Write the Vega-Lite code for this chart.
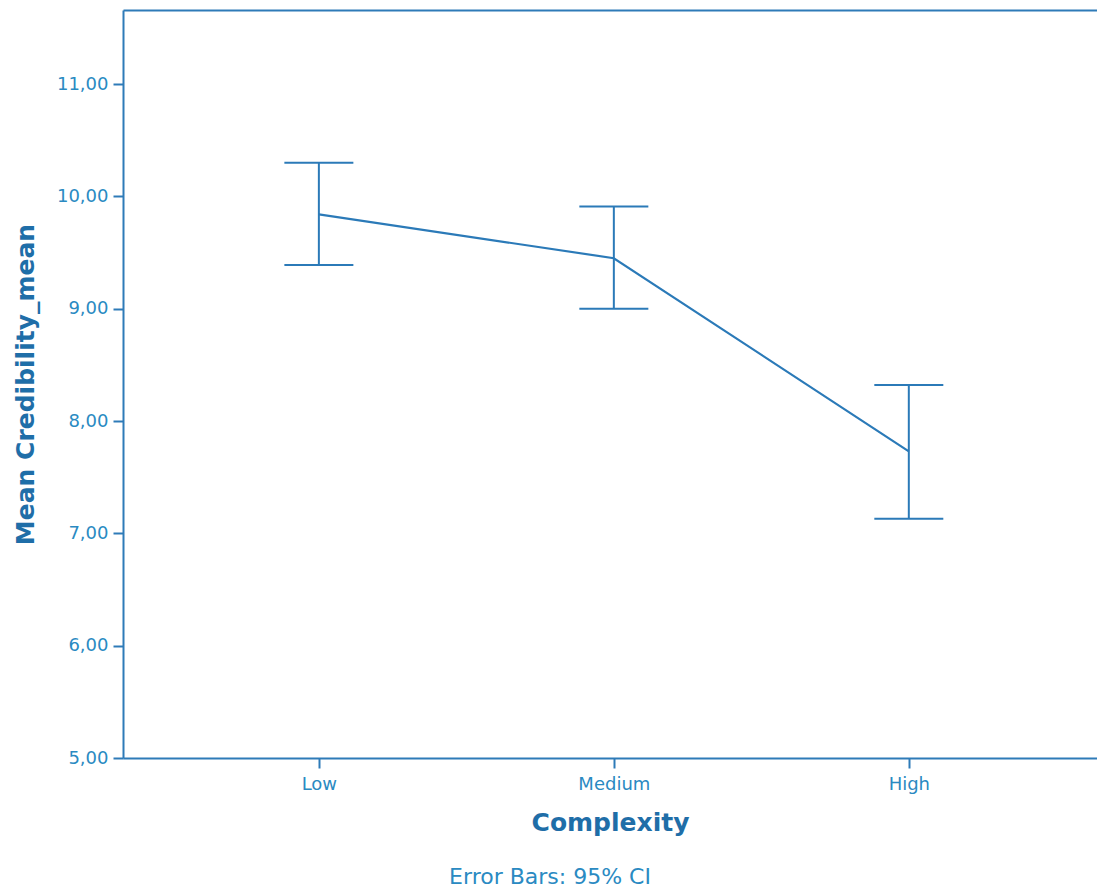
{
  "$schema": "https://vega.github.io/schema/vega-lite/v6.json",
  "autosize": "none",
  "width": 974,
  "height": 748,
  "padding": {"left": 123, "top": 10, "right": 0, "bottom": 130},
  "background": "white",
  "config": {
    "font": "DejaVu Sans",
    "view": {"stroke": null},
    "axis": {"domainColor": "#2e7bb8", "domainWidth": 2, "tickColor": "#2e7bb8", "tickWidth": 2, "tickSize": 10, "grid": false, "labelColor": "#2a8ac2", "labelFont": "DejaVu Sans", "labelFontSize": 18, "titleColor": "#1f6ea8", "titleFont": "DejaVu Sans", "titleFontSize": 25, "titleFontWeight": "bold"}
  },
  "title": {"text": "Error Bars: 95% CI", "orient": "bottom", "anchor": "middle", "dx": -60, "offset": 32, "fontSize": 22, "fontWeight": "normal", "color": "#2a8ac2", "font": "DejaVu Sans"},
  "data": {"values": [
    {"Complexity": "Low", "mean": 9.84, "lower": 9.39, "upper": 10.30},
    {"Complexity": "Medium", "mean": 9.45, "lower": 9.00, "upper": 9.91},
    {"Complexity": "High", "mean": 7.73, "lower": 7.13, "upper": 8.32}
  ]},
  "resolve": {"axis": {"x": "independent"}},
  "layer": [
    {
      "mark": {"type": "line", "color": "#2b7ab8", "strokeWidth": 2.2},
      "encoding": {
        "x": {"field": "Complexity", "type": "nominal", "sort": ["Low", "Medium", "High"],
          "scale": {"type": "point", "padding": 0.651, "align": 0.51},
          "axis": {"title": "Complexity", "labelAngle": 0, "labelPadding": 7, "titlePadding": 17}},
        "y": {"field": "mean", "type": "quantitative", "scale": {"domain": [5, 11.66], "nice": false, "zero": false},
          "axis": {"title": "Mean Credibility_mean", "values": [5, 6, 7, 8, 9, 10, 11], "labelExpr": "replace(format(datum.value, '.2f'), '.', ',')", "labelPadding": 5, "titlePadding": 18}}
      }
    },
    {
      "mark": {"type": "rule", "color": "#2b7ab8", "strokeWidth": 2},
      "encoding": {
        "x": {"field": "Complexity", "type": "nominal", "sort": ["Low", "Medium", "High"],
          "axis": {"orient": "top", "title": null, "labels": false, "ticks": false, "domain": true}},
        "y": {"field": "lower", "type": "quantitative"}, "y2": {"field": "upper"}}
    },
    {
      "mark": {"type": "tick", "color": "#2b7ab8", "opacity": 1, "thickness": 2, "size": 69, "orient": "horizontal"},
      "encoding": {"x": {"field": "Complexity", "type": "nominal", "sort": ["Low", "Medium", "High"], "axis": null}, "y": {"field": "lower", "type": "quantitative"}}
    },
    {
      "mark": {"type": "tick", "color": "#2b7ab8", "opacity": 1, "thickness": 2, "size": 69, "orient": "horizontal"},
      "encoding": {"x": {"field": "Complexity", "type": "nominal", "sort": ["Low", "Medium", "High"], "axis": null}, "y": {"field": "upper", "type": "quantitative"}}
    }
  ]
}
